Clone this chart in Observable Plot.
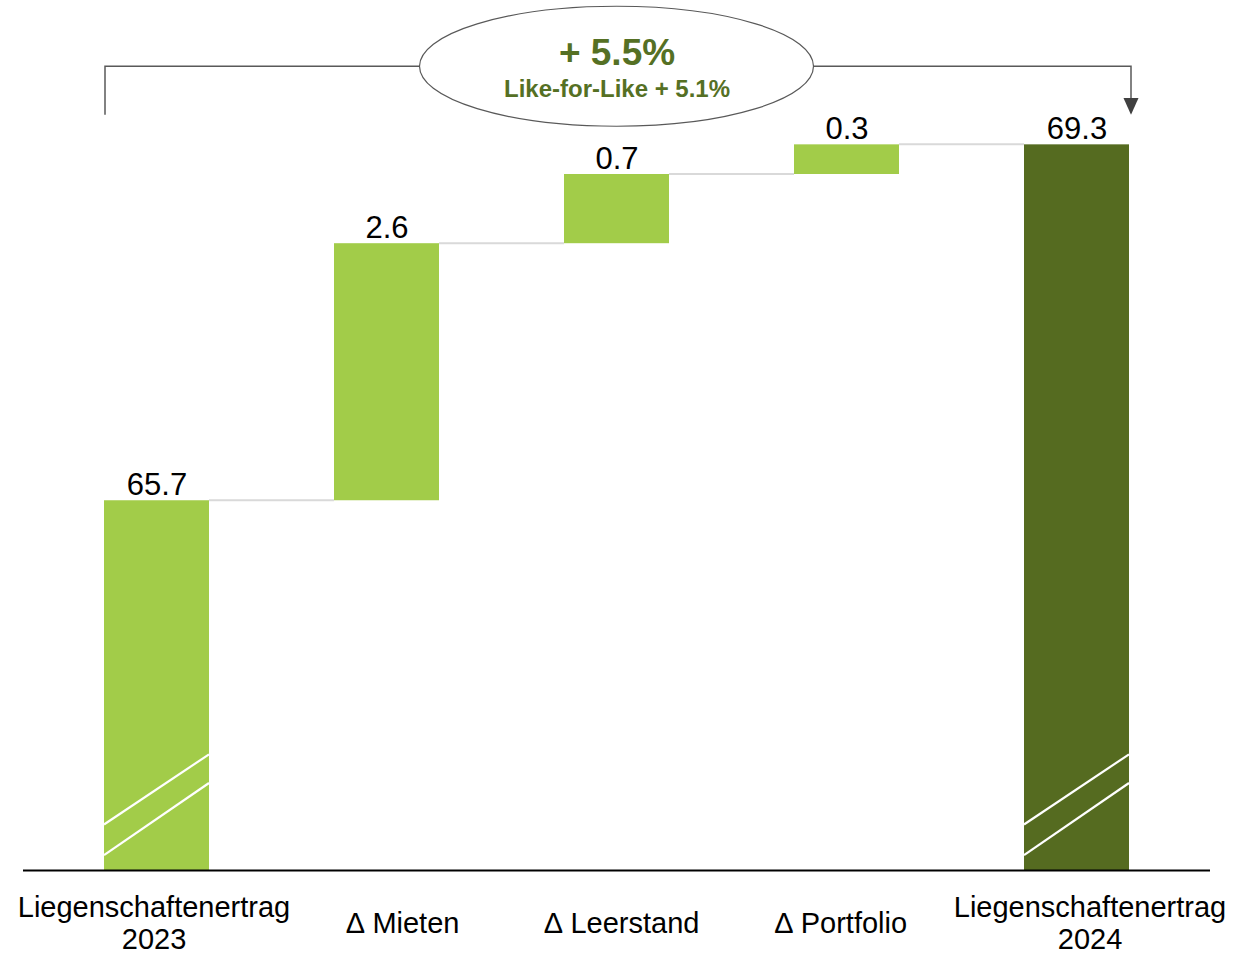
<!DOCTYPE html>
<html><head><meta charset="utf-8">
<script src="https://cdn.jsdelivr.net/npm/d3@7"></script>
<script src="https://cdn.jsdelivr.net/npm/@observablehq/plot@0.6"></script>
<style>body{margin:0;background:#fff} svg{display:block}</style>
</head><body><div id="chart"></div>
<script>
// ---- data ----
const categories = ["Liegenschaftenertrag\n2023", "∆ Mieten", "∆ Leerstand", "∆ Portfolio", "Liegenschaftenertrag\n2024"];
const values = [65.7, 2.6, 0.7, 0.3, 69.3];
const kinds = ["total", "delta", "delta", "delta", "total"];
const valueLabels = ["65.7", "2.6", "0.7", "0.3", "69.3"];
const axisDomain = [61.96, 70.76];          // broken axis: bars start at axis floor
const breakLines = [[62.42, 63.13], [62.11, 62.84]]; // axis-break slashes (value at left, right edge)
const growthLabel = "+ 5.5%";
const lflLabel = "Like-for-Like + 5.1%";
const growthY = 70.23, lflY = 69.86;       // annotation text levels
const bracketLevel = 70.09, bracketEnd = 69.60, arrowBase = 69.77;
const annotationCategory = "∆ Leerstand";

// ---- styles / layout ----
const LIGHT = "#a2cc49", DARK = "#556b20", TEXTGREEN = "#557024", GRAY = "#595959", CONN = "#d9d9d9";
const FONT = "'Liberation Sans', Arial, sans-serif";
const LABEL_DX = [-3, 16, 5, -6, 13];      // small horizontal nudges of category labels

// ---- waterfall rows ----
let cum = 0;
const rows = categories.map((c, i) => {
  let y1, y2;
  if (kinds[i] === "total") { y1 = axisDomain[0]; y2 = values[i]; cum = values[i]; }
  else { y1 = cum; y2 = cum + values[i]; cum = y2; }
  return {category: c, y1, y2, label: valueLabels[i], fill: i === categories.length - 1 ? DARK : LIGHT, kind: kinds[i]};
});
const connectors = rows.slice(0, -1).map((r, i) => ({from: r.category, to: rows[i + 1].category, level: r.y2}));

const svgNS = "http://www.w3.org/2000/svg";
function el(name, attrs) { const e = document.createElementNS(svgNS, name); for (const k in attrs) e.setAttribute(k, attrs[k]); return e; }

// connectors from right edge of one bar to left edge of the next
function connectorMark(index, scales) {
  const {x, y} = scales; const bw = x.bandwidth();
  const g = el("g", {});
  connectors.forEach(c => g.appendChild(el("line", {x1: x(c.from) + bw, x2: x(c.to), y1: y(c.level), y2: y(c.level), stroke: CONN, "stroke-width": 2})));
  return g;
}
// axis-break slashes on total bars
function breaks(index, scales) {
  const {x, y} = scales; const bw = x.bandwidth();
  const g = el("g", {});
  rows.filter(r => r.kind === "total").forEach(r => {
    const x0 = x(r.category), x1 = x0 + bw;
    breakLines.forEach(([a, b]) => g.appendChild(el("line", {x1: x0, x2: x1, y1: y(a), y2: y(b), stroke: "#fff", "stroke-width": 2.2})));
  });
  return g;
}
// bracket with arrow + ellipse
function bracket(index, scales) {
  const {x, y} = scales; const bw = x.bandwidth();
  const g = el("g", {});
  const xl = x(categories[0]) + 1, xr = x(categories[categories.length - 1]) + bw + 2;
  g.appendChild(el("path", {d: `M${xl},${y(bracketEnd)}V${y(bracketLevel)}H${xr}V${y(arrowBase)}`, fill: "none", stroke: GRAY, "stroke-width": 1.5}));
  g.appendChild(el("path", {d: `M${xr - 7.5},${y(arrowBase)}L${xr + 7.5},${y(arrowBase)}L${xr},${y(bracketEnd)}Z`, fill: "#404040"}));
  const cx = x(annotationCategory) + bw / 2;
  g.appendChild(el("ellipse", {cx, cy: y(bracketLevel), rx: 197, ry: 60, fill: "#fff", stroke: GRAY, "stroke-width": 1.2}));
  return g;
}

const chart = Plot.plot({
  width: 1246, height: 955,
  marginLeft: 23, marginRight: 36, marginTop: 0, marginBottom: 85,
  style: {fontFamily: FONT, background: "#fff"},
  x: {domain: categories, paddingInner: 0.545, paddingOuter: 0.346, axis: null},
  y: {domain: axisDomain, axis: null},
  marks: [
    connectorMark,
    Plot.barY(rows, {x: "category", y1: "y1", y2: "y2", fill: "fill"}),
    breaks,
    Plot.ruleY([axisDomain[0]], {stroke: "#000", strokeWidth: 2}),
    Plot.text(rows, {x: "category", y: "y2", text: "label", dy: -6, lineAnchor: "bottom", fontSize: 31, fill: "#000"}),
    ...rows.map((r, i) => Plot.text([r], {x: "category", text: "category", frameAnchor: "bottom", dx: LABEL_DX[i], dy: 52.5, lineAnchor: "middle", lineHeight: 1.1, fontSize: 29, fill: "#000"})),
    bracket,
    Plot.text([growthLabel], {x: () => annotationCategory, y: () => growthY, text: d => d, fontSize: 37, fontWeight: "bold", fill: TEXTGREEN}),
    Plot.text([lflLabel], {x: () => annotationCategory, y: () => lflY, text: d => d, fontSize: 24, fontWeight: "bold", fill: TEXTGREEN})
  ]
});
document.getElementById("chart").appendChild(chart);
</script></body></html>
